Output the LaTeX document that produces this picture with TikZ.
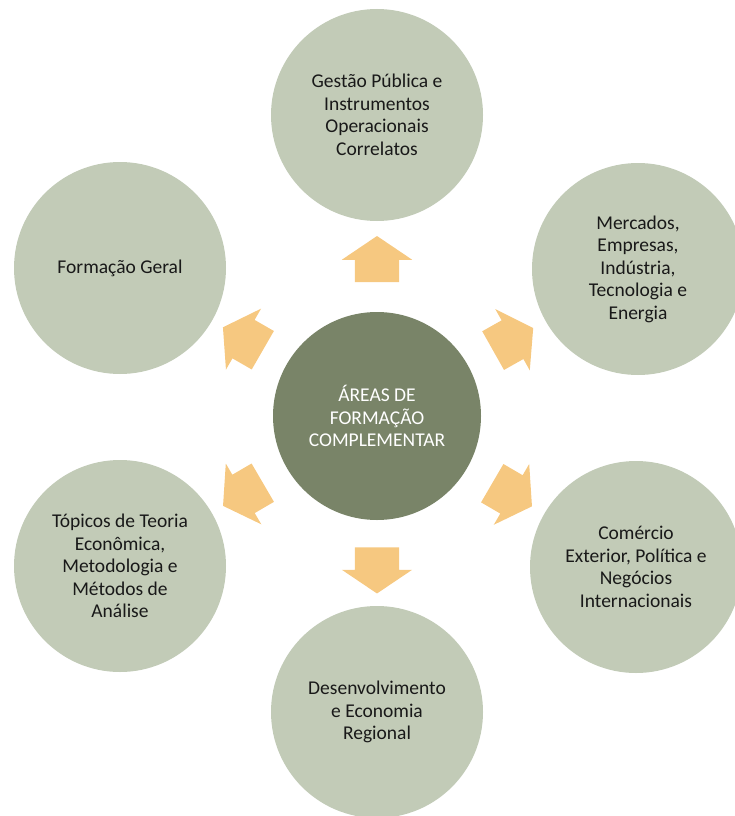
\documentclass[tikz,border=0pt]{standalone}
\usepackage{fontspec}
\setmainfont{Carlito}
\usepackage{tikz}
\usepackage{xcolor}
\usetikzlibrary{positioning,shapes.arrows}

\definecolor{salvia}{RGB}{194,203,183}
\definecolor{oliva}{RGB}{121,132,104}
\definecolor{laranja}{RGB}{246,200,128}
\definecolor{tinta}{RGB}{25,25,25}

\tikzstyle{area} = [circle, fill=salvia, minimum size=212pt, inner sep=0pt, align=center, text=tinta]
\tikzstyle{nucleo} = [circle, fill=oliva, minimum size=208pt, inner sep=0pt, align=center, text=white]
\tikzstyle{seta} = [single arrow, fill=laranja, minimum height=46pt, inner xsep=0pt, inner ysep=22pt, single arrow head extend=13pt, single arrow tip angle=112]

\begin{document}
\begin{tikzpicture}[x=1pt,y=-1pt,on grid,font=\fontsize{19.5}{22.5}\selectfont]
  \useasboundingbox (0,0) rectangle (735,816);
  \node[nucleo] (AFC) at (377,416) {ÁREAS DE\\FORMAÇÃO\\COMPLEMENTAR};
  \node[area] (GP) [above=301pt of AFC] {Gestão Pública e\\Instrumentos\\Operacionais\\Correlatos};
  \node[area] (FG) [above left=148pt and 257pt of AFC] {Formação Geral};
  \node[area] (ME) [above right=147pt and 261pt of AFC] {Mercados,\\Empresas,\\Indústria,\\Tecnologia e\\Energia};
  \node[area] (TT) [below left=150pt and 257pt of AFC] {Tópicos de Teoria\\Econômica,\\Metodologia e\\Métodos de\\Análise};
  \node[area] (CE) [below right=151pt and 259pt of AFC] {Comércio\\Exterior, Política e\\Negócios\\Internacionais};
  \node[area] (DE) [below=296pt of AFC] {Desenvolvimento\\e Economia\\Regional};

  \path (AFC) -- (GP) node[seta, midway, sloped, allow upside down] {};
  \path (AFC) -- (FG) node[seta, midway, sloped, allow upside down] {};
  \path (AFC) -- (ME) node[seta, midway, sloped, allow upside down] {};
  \path (AFC) -- (TT) node[seta, midway, sloped, allow upside down] {};
  \path (AFC) -- (CE) node[seta, midway, sloped, allow upside down] {};
  \path (AFC) -- (DE) node[seta, midway, sloped, allow upside down] {};
\end{tikzpicture}
\end{document}
